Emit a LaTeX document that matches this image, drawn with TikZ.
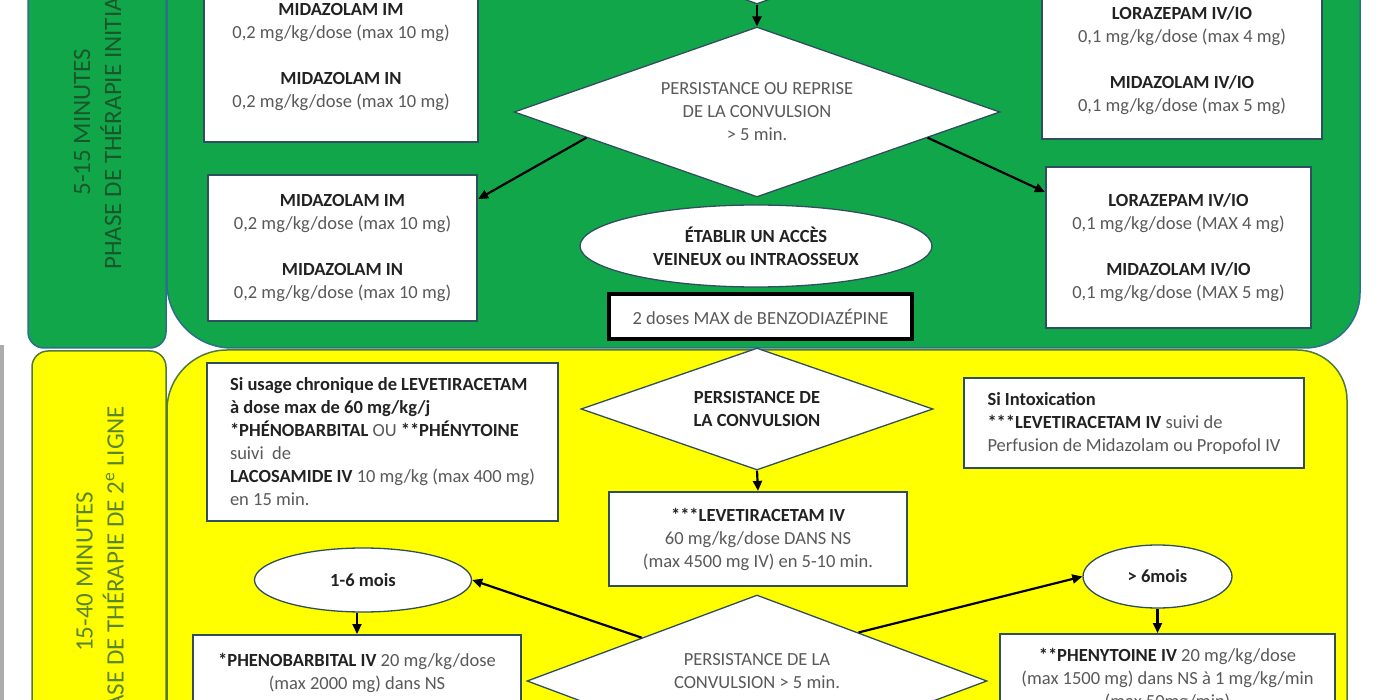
\documentclass[tikz,border=0pt]{standalone}
\usepackage{fontspec}
\setmainfont{Carlito}
\usetikzlibrary{shapes.geometric,arrows.meta,calc}
\definecolor{grn}{RGB}{18,166,75}
\definecolor{ylw}{RGB}{255,255,0}
\definecolor{gline}{HTML}{2C6F8C}
\definecolor{yline}{HTML}{4F7A3A}
\definecolor{boxc}{HTML}{2F4F5F}
\definecolor{txn}{HTML}{595959}
\definecolor{txb}{HTML}{222222}
\definecolor{lblg}{HTML}{17572A}
\definecolor{lbly}{HTML}{5A8528}
\newcommand{\mb}[1]{\textcolor{txb}{\bfseries #1}}
\begin{document}
\begin{tikzpicture}[x=1pt,y=-1pt,
  every node/.style={font=\fontsize{18.5}{23}\selectfont, text=txn, align=center},
  box/.style={draw=boxc, line width=2.2pt, fill=white, inner sep=0pt},
  dia/.style={diamond, aspect=2.8, draw=boxc, line width=1.3pt, fill=white, inner sep=0pt},
  ell/.style={ellipse, draw=boxc, line width=1.3pt, fill=white, inner sep=0pt},
  arr/.style={-{Triangle[length=10pt,width=9pt]}, line width=2.2pt, black},
  lbl/.style={rotate=90, font=\fontsize{25}{31}\selectfont}
]
\useasboundingbox (0,0) rectangle (1400,700);
\fill[white] (0,0) rectangle (1400,700);
\clip (0,0) rectangle (1400,700);
\fill[gray!65] (0,345) rectangle (4,700);

% green phase
\draw[gline, line width=1.5pt, fill=grn] (167,-10) -- (167,283)
  .. controls (167,318.9) and (196.1,348) .. (232,348) -- (1305,348)
  .. controls (1335.4,348) and (1360,323.4) .. (1360,293) -- (1360,-10) -- cycle;
\draw[gline, line width=1.5pt, fill=grn, rounded corners=16pt] (28,-40) rectangle (166,348);
\node[lbl, text=lblg] (lbl1) at (97.5,122) {5-15 MINUTES\\PHASE DE THÉRAPIE INITIALE};

% yellow phase
\draw[yline, line width=1.5pt, fill=ylw] (167,760) -- (167,410)
  .. controls (167,376.9) and (193.9,350) .. (227,350) -- (1297,350)
  .. controls (1324.6,350) and (1347,372.4) .. (1347,400) -- (1347,760) -- cycle;
\draw[yline, line width=1.5pt, fill=ylw, rounded corners=16pt] (32,351) rectangle (166,780);
\node[lbl, text=lbly] (lbl2) at (100,572) {15-40 MINUTES\\PHASE DE THÉRAPIE DE 2\textsuperscript{e} LIGNE};

% green content
\node[dia, minimum width=486pt, minimum height=170pt] (d1) at (757,-81) {};
\node[box, minimum width=274pt, minimum height=170pt] (mL1) at (341,57)
  {\mb{MIDAZOLAM IM}\\0,2 mg/kg/dose (max 10 mg)\\[23pt]\mb{MIDAZOLAM IN}\\0,2 mg/kg/dose (max 10 mg)};
\node[box, minimum width=280pt, minimum height=157pt] (mR1) at (1182,60.5)
  {\mb{LORAZEPAM IV/IO}\\0,1 mg/kg/dose (max 4 mg)\\[23pt]\mb{MIDAZOLAM IV/IO}\\0,1 mg/kg/dose (max 5 mg)};
\node[dia, minimum width=486pt, minimum height=170pt] (d2) at (757,112)
  {PERSISTANCE OU REPRISE\\DE LA CONVULSION\\> 5 min.};
\node[box, minimum width=269pt, minimum height=146pt] (mL2) at (342.5,248)
  {\mb{MIDAZOLAM IM}\\0,2 mg/kg/dose (max 10 mg)\\[23pt]\mb{MIDAZOLAM IN}\\0,2 mg/kg/dose (max 10 mg)};
\node[box, minimum width=265pt, minimum height=161pt] (mR2) at (1178.5,247.5)
  {\mb{LORAZEPAM IV/IO}\\0,1 mg/kg/dose (MAX 4 mg)\\[23pt]\mb{MIDAZOLAM IV/IO}\\0,1 mg/kg/dose (MAX 5 mg)};
\node[ell, minimum width=352pt, minimum height=82pt] (acc) at (756,246)
  {\mb{ÉTABLIR UN ACCÈS}\\\mb{VEINEUX ou INTRAOSSEUX}};
\node[draw=black, line width=3.5pt, fill=white, minimum width=303pt, minimum height=45pt, inner sep=0pt] (dose) at (760.5,316.5)
  {2 doses MAX de BENZODIAZÉPINE};

\draw[arr] (d1.south) -- (d2.north);
\draw[arr] ($(d2.west)!0.3!(d2.south)$) -- ($(mL2.north east)!0.17!(mL2.south east)$);
\draw[arr] ($(d2.east)!0.3!(d2.south)$) -- ($(mR2.north west)!0.16!(mR2.south west)$);

% yellow content
\node[dia, minimum width=352pt, minimum height=122pt] (d3) at (757,409)
  {\mb{PERSISTANCE DE}\\\mb{LA CONVULSION}};
\node[box, minimum width=351pt, minimum height=158pt, align=left] (use) at (382.5,442)
  {\mb{Si usage chronique de LEVETIRACETAM}\\\mb{à dose max de 60 mg/kg/j}\\\mb{*PHÉNOBARBITAL} OU \mb{**PHÉNYTOINE}\\suivi\ \ de\\\mb{LACOSAMIDE IV} 10 mg/kg (max 400 mg)\\en 15 min.};
\node[box, minimum width=340pt, minimum height=90pt, align=left] (intox) at (1134,423)
  {\mb{Si Intoxication}\\\mb{***LEVETIRACETAM IV} suivi de\\Perfusion de Midazolam ou Propofol IV};
\node[box, minimum width=298pt, minimum height=94pt] (lev) at (758,539)
  {\mb{***LEVETIRACETAM IV}\\60 mg/kg/dose DANS NS\\(max 4500 mg IV) en 5-10 min.};
\node[dia, minimum width=460pt, minimum height=172pt] (d4) at (757,681) {};
\node (d4t) at (757,671.5) {PERSISTANCE DE LA\\CONVULSION > 5 min.};
\node[ell, minimum width=217pt, minimum height=64pt] (e16) at (363,580) {\mb{1-6 mois}};
\node[ell, minimum width=149pt, minimum height=63pt] (e6) at (1157.5,576.5) {\mb{> 6mois}};
\node[box, minimum width=328pt, minimum height=120pt, anchor=north] (pheno) at (357,634) {};
\node (phenot) at (357,672.5) {\mb{*PHENOBARBITAL IV} 20 mg/kg/dose\\(max 2000 mg) dans NS};
\node[box, minimum width=335pt, minimum height=120pt, anchor=north] (phen) at (1167.5,633) {};
\node (phent) at (1167.5,679) {\mb{**PHENYTOINE IV} 20 mg/kg/dose\\(max 1500 mg) dans NS à 1 mg/kg/min\\(max 50mg/min)};

\draw[arr] (d3.south) -- (lev.north);
\draw[arr] ($(d4.north)!0.5!(d4.west)$) -- (e16.east);
\draw[arr] ($(d4.north)!0.44!(d4.east)$) -- (e6.west);
\draw[arr] (e16.south -| pheno.north) -- (pheno.north);
\draw[arr] (e6.south) -- (e6.south |- phen.north);
\end{tikzpicture}
\end{document}
